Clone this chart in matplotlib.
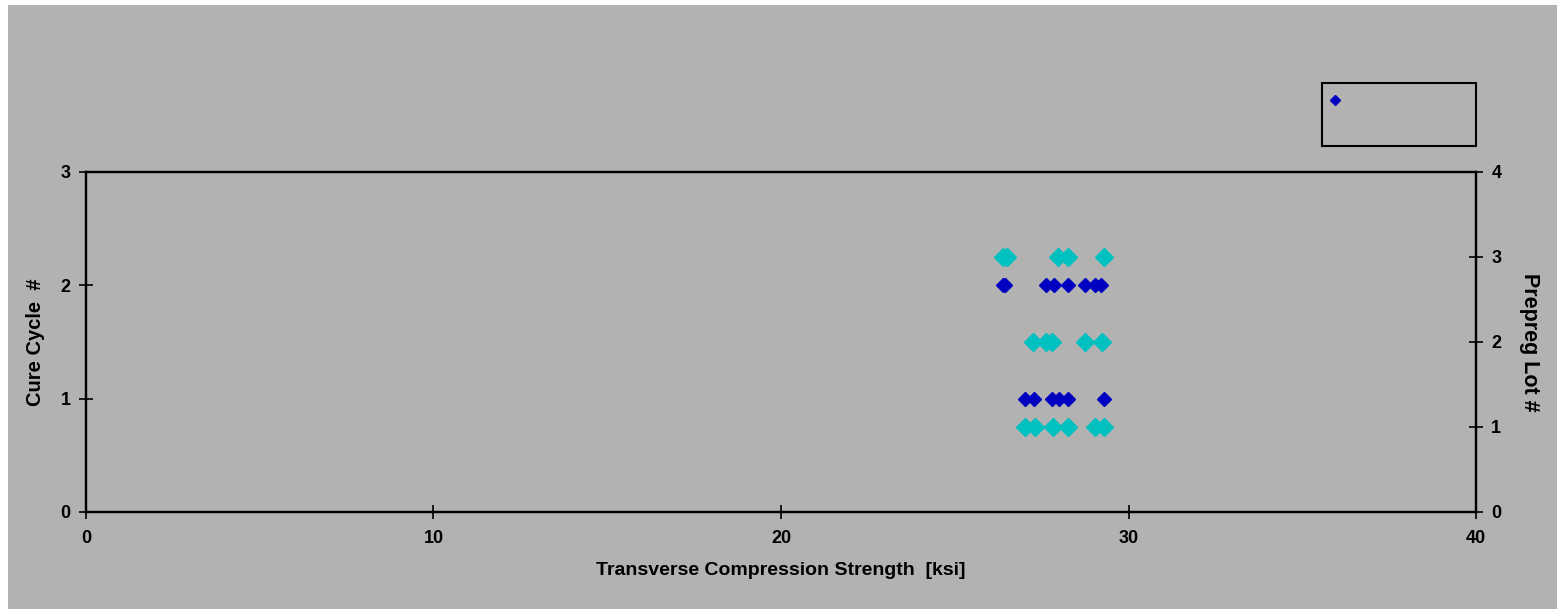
import matplotlib
matplotlib.use("Agg")
import matplotlib.pyplot as plt
from matplotlib.patches import Rectangle
from matplotlib.lines import Line2D

plt.rcParams['font.family'] = ['Liberation Sans', 'DejaVu Sans']
plt.rcParams['font.weight'] = 'bold'

# ========== Data ==========
# cure cycle series (left axis)
cure_strength = [26.40, 26.45, 27.64, 27.85, 28.27, 28.75, 29.04, 29.20,
                 27.02, 27.29, 27.79, 28.00, 28.25, 29.29]
cure_cycle = [2, 2, 2, 2, 2, 2, 2, 2,
              1, 1, 1, 1, 1, 1]

# prepreg lot series (right axis)
lot_strength = [26.38, 26.50, 27.98, 28.27, 29.29,
                27.26, 27.64, 27.79, 28.75, 29.23,
                27.02, 27.31, 27.82, 28.27, 29.04, 29.29]
prepreg_lot = [3, 3, 3, 3, 3,
               2, 2, 2, 2, 2,
               1, 1, 1, 1, 1, 1]

BG = '#b2b2b2'
BLUE = '#0000c0'
CYAN = '#00c0c0'

fig = plt.figure(figsize=(15.57, 6.09), dpi=100, facecolor='white')
# grey chart area with a thin white edge at top and left
fig.add_artist(Rectangle((8 / 1557, 0), 1 - 8 / 1557, 1 - 5 / 609, transform=fig.transFigure,
                         facecolor=BG, edgecolor='none', zorder=0))

ax = fig.add_axes([0.0552, 0.1593, 0.8928, 0.5583])
ax.set_facecolor(BG)
ax2 = ax.twinx()

ax.plot(cure_strength, cure_cycle, linestyle='none', marker='D',
        markersize=7.5, color=BLUE, markeredgecolor=BLUE)
ax2.plot(lot_strength, prepreg_lot, linestyle='none', marker='D',
         markersize=9.5, color=CYAN, markeredgecolor=CYAN)

ax.set_xlim(0, 40)
ax.set_ylim(0, 3)
ax2.set_ylim(0, 4)
ax.set_xticks([0, 10, 20, 30, 40])
ax.set_yticks([0, 1, 2, 3])
ax2.set_yticks([0, 1, 2, 3, 4])

for a in (ax, ax2):
    a.tick_params(direction='inout', length=10, width=1.2, labelsize=13, pad=6)
    for s in a.spines.values():
        s.set_linewidth(1.6)
        s.set_color('black')
ax.tick_params(axis='x', pad=8)

ax.set_xlabel('Transverse Compression Strength  [ksi]', fontsize=14, fontweight='bold', labelpad=11)
ax.set_ylabel('Cure Cycle  #', fontsize=14.5, fontweight='bold', labelpad=11)
ax2.set_ylabel('Prepreg Lot #', fontsize=15.5, fontweight='bold', rotation=270, labelpad=28)

# legend box (no text)
fig.add_artist(Rectangle((0.849, 0.760), 0.0989, 0.1034, transform=fig.transFigure,
                         fill=False, edgecolor='black', linewidth=1.5))
fig.add_artist(Line2D([0.8574], [0.836], transform=fig.transFigure, linestyle='none',
                      marker='D', markersize=5, color=BLUE))

plt.savefig('out.png', dpi=100, facecolor='white')
plt.close()
